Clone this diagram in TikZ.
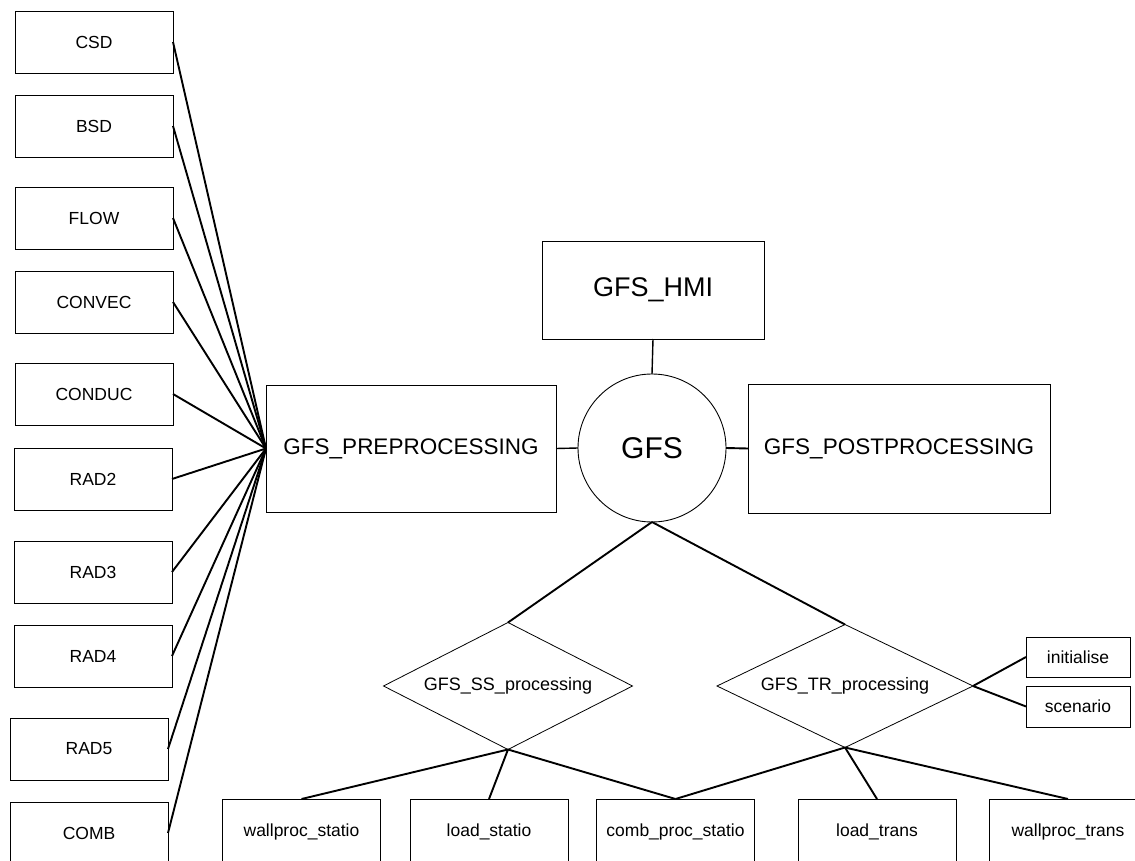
\documentclass[tikz,border=0pt]{standalone}
\usepackage{fontspec}
\setmainfont{Liberation Sans}
\usetikzlibrary{shapes.geometric}
\begin{document}
\begin{tikzpicture}[x=1pt,y=-1pt,
  box/.style={draw,line width=0.9pt,rectangle,inner sep=0pt,outer sep=0pt,font=\fontsize{17.5}{20}\selectfont},
  leftbox/.style={box,minimum width=158pt,minimum height=62pt},
  botbox/.style={box,minimum width=158pt,minimum height=66pt},
  bigbox/.style={box,font=\fontsize{22.5}{26}\selectfont},
  dia/.style={draw,line width=0.8pt,diamond,aspect=2,inner sep=0pt,outer sep=0pt,font=\fontsize{18}{20}\selectfont},
  link/.style={line width=1.9pt},
  thinlink/.style={line width=1.4pt}]
\useasboundingbox (0,0) rectangle (1135,861);
\clip (0,0) rectangle (1135,861);
% left column
\node[leftbox] (csd) at (94,42) {CSD};
\node[leftbox] (bsd) at (94,126) {BSD};
\node[leftbox] (flow) at (94,218) {FLOW};
\node[leftbox] (convec) at (94,302) {CONVEC};
\node[leftbox] (conduc) at (94,394) {CONDUC};
\node[leftbox] (rad2) at (93,479) {RAD2};
\node[leftbox] (rad3) at (93,572) {RAD3};
\node[leftbox] (rad4) at (93,656) {RAD4};
\node[leftbox] (rad5) at (89,749) {RAD5};
\node[leftbox] (comb) at (89,833) {COMB};
% centre
\node[bigbox,minimum width=290pt,minimum height=127pt] (pre) at (411,448.5) {GFS\_PREPROCESSING};
\node[bigbox,minimum width=302pt,minimum height=129pt] (post) at (899,448.5) {GFS\_POSTPROCESSING};
\node[box,minimum width=222pt,minimum height=98pt,font=\fontsize{27}{30}\selectfont] (hmi) at (653,290) {GFS\_HMI};
\node[draw,line width=0.9pt,circle,minimum size=148pt,inner sep=0pt,outer sep=0pt,font=\fontsize{30}{34}\selectfont] (gfs) at (652,448) {GFS};
% diamonds
\node[dia,minimum width=249pt,minimum height=127pt] (ss) at (508,686) {GFS\_SS\_processing};
\node[dia,minimum width=256pt,minimum height=123pt] (tr) at (845,686) {GFS\_TR\_processing};
% right small boxes
\node[box,minimum width=104pt,minimum height=40pt] (init) at (1078,657) {initialise};
\node[box,minimum width=104pt,minimum height=41pt] (scen) at (1078,706.5) {scenario};
% bottom boxes
\node[botbox] (wps) at (301.5,832) {wallproc\_statio};
\node[botbox] (lds) at (489,832) {load\_statio};
\node[botbox] (cps) at (675.5,832) {comb\_proc\_statio};
\node[botbox] (ldt) at (877,832) {load\_trans};
\node[botbox] (wpt) at (1068,832) {wallproc\_trans};
% connectors
\foreach \n in {csd,bsd,flow,convec,conduc,rad2,rad3,rad4,rad5,comb}
  \draw[link] (\n.east) -- (pre.west);
\draw[thinlink] (hmi.south) -- (gfs.north);
\draw[thinlink] (pre.east) -- (gfs.west);
\draw[link] (gfs.east) -- (post.west);
\draw[link] (gfs.south) -- (ss.north);
\draw[link] (gfs.south) -- (tr.north);
\draw[link] (ss.south) -- (wps.north);
\draw[link] (ss.south) -- (lds.north);
\draw[link] (ss.south) -- (cps.north);
\draw[link] (tr.south) -- (cps.north);
\draw[link] (tr.south) -- (ldt.north);
\draw[link] (tr.south) -- (wpt.north);
\draw[link] (tr.east) -- (init.west);
\draw[link] (tr.east) -- (scen.west);
\end{tikzpicture}
\end{document}
